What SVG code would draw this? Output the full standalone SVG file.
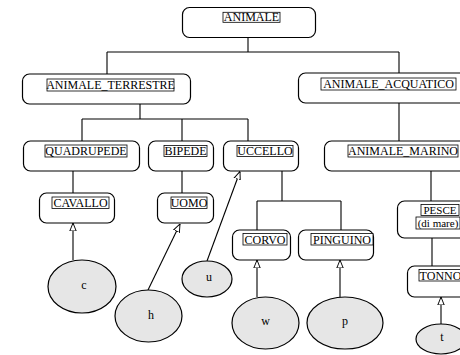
<svg xmlns="http://www.w3.org/2000/svg" width="460" height="355" viewBox="0 0 460 355">
<defs>
<style>
.box{fill:#fff;stroke:#000;stroke-width:1.2}
.lbl{fill:#fff;stroke:#000;stroke-width:0.8}
.t{font-family:"Liberation Serif","Times New Roman",serif;font-size:12px;fill:#000;text-anchor:middle}
.s{font-size:11px}
.ell{fill:#e6e6e6;stroke:#000;stroke-width:1.2}
.ln{fill:none;stroke:#000;stroke-width:1.1}
.ar{fill:none;stroke:#000;stroke-width:1.1;marker-end:url(#tri)}
</style>
<marker id="tri" viewBox="0 0 10 10" refX="10" refY="5" markerWidth="8" markerHeight="8" markerUnits="userSpaceOnUse" orient="auto">
<path d="M0,1 L10,5 L0,9 z" fill="#fff" stroke="#000" stroke-width="1.2"/>
</marker>
</defs>
<rect width="460" height="355" fill="#fff"/>
<g id="connectors">
<path class="ln" d="M248,37 V52 M107,52 H399 M107,52 V74 M399,52 V73"/>
<path class="ln" d="M140,104 V119 M82,119 H248 M82,119 V141 M182,119 V141 M248,119 V141"/>
<path class="ln" d="M399,103 V141"/>
<path class="ln" d="M73,171 V193 M182,171 V193"/>
<path class="ln" d="M282,171 V201 M257,201 H341 M257,201 V230 M341,201 V230"/>
<path class="ln" d="M431,171 V201 M432,238 V266"/>
<path class="ar" d="M73,260 V223"/>
<path class="ar" d="M148,290 L180,224"/>
<path class="ar" d="M207,261 L240,171.5"/>
<path class="ar" d="M257,297 V260"/>
<path class="ar" d="M340,297 V260"/>
<path class="ar" d="M441,324 V297"/>
</g>
<g id="animale">
<rect class="box" x="182.5" y="7.5" width="133" height="30" rx="7"/>
<rect class="lbl" x="223" y="12.3" width="57" height="10"/>
<text class="t" x="251.5" y="21">ANIMALE</text>
</g>
<g id="animale_terrestre">
<rect class="box" x="22.5" y="74" width="168" height="30" rx="7"/>
<rect class="lbl" x="47" y="79" width="127" height="12"/>
<text class="t" x="110.5" y="88.5">ANIMALE_TERRESTRE</text>
</g>
<g id="animale_acquatico">
<rect class="box" x="298.5" y="73" width="190" height="30" rx="7"/>
<rect class="lbl" x="321" y="78" width="135" height="12"/>
<text class="t" x="388.5" y="88">ANIMALE_ACQUATICO</text>
</g>
<g id="quadrupede">
<rect class="box" x="23.5" y="141" width="116" height="30" rx="7"/>
<rect class="lbl" x="45" y="145" width="82" height="12"/>
<text class="t" x="86" y="155">QUADRUPEDE</text>
</g>
<g id="bipede">
<rect class="box" x="148.5" y="141" width="65" height="30" rx="7"/>
<rect class="lbl" x="164" y="145.5" width="43" height="11"/>
<text class="t" x="185.5" y="155">BIPEDE</text>
</g>
<g id="uccello">
<rect class="box" x="223.5" y="141" width="75" height="30" rx="7"/>
<rect class="lbl" x="237" y="145.5" width="56" height="11"/>
<text class="t" x="265" y="155">UCCELLO</text>
</g>
<g id="animale_marino">
<rect class="box" x="324.5" y="141" width="170" height="30" rx="7"/>
<rect class="lbl" x="348" y="145" width="110" height="12"/>
<text class="t" x="403" y="155">ANIMALE_MARINO</text>
</g>
<g id="cavallo">
<rect class="box" x="39.5" y="193" width="75" height="30" rx="7"/>
<rect class="lbl" x="52" y="197" width="57" height="11.5"/>
<text class="t" x="80.5" y="207">CAVALLO</text>
</g>
<g id="uomo">
<rect class="box" x="157.5" y="193" width="56" height="30" rx="7"/>
<rect class="lbl" x="171" y="197" width="36" height="11.5"/>
<text class="t" x="189" y="207">UOMO</text>
</g>
<g id="corvo">
<rect class="box" x="232.5" y="230" width="58" height="30" rx="7"/>
<rect class="lbl" x="243" y="233.5" width="44" height="11.5"/>
<text class="t" x="265" y="243.5">CORVO</text>
</g>
<g id="pinguino">
<rect class="box" x="298.5" y="230" width="75" height="30" rx="7"/>
<rect class="lbl" x="311" y="233.5" width="62" height="11.5"/>
<text class="t" x="342" y="243.5">PINGUINO</text>
</g>
<g id="pesce">
<rect class="box" x="397.5" y="201" width="90" height="37" rx="7"/>
<rect class="lbl" x="421" y="204.5" width="38" height="11"/>
<text class="t s" x="440" y="213.5">PESCE</text>
<rect class="lbl" x="416" y="217" width="44" height="12"/>
<text class="t s" x="438" y="226.5">(di mare)</text>
</g>
<g id="tonno">
<rect class="box" x="407.5" y="266" width="70" height="31" rx="7"/>
<rect class="lbl" x="419" y="269.5" width="43" height="11.5"/>
<text class="t" x="440.5" y="279.5">TONNO</text>
</g>
<g id="c">
<ellipse class="ell" cx="82" cy="286.5" rx="34" ry="26.5"/>
<text class="t" x="84" y="288.5">c</text>
</g>
<g id="h">
<ellipse class="ell" cx="148.5" cy="316" rx="33.5" ry="26"/>
<text class="t" x="151" y="318.5">h</text>
</g>
<g id="u">
<ellipse class="ell" cx="207" cy="279" rx="25" ry="18"/>
<text class="t" x="209" y="280.5">u</text>
</g>
<g id="w">
<ellipse class="ell" cx="265.5" cy="323" rx="33.5" ry="26"/>
<text class="t" x="265.5" y="325">w</text>
</g>
<g id="p">
<ellipse class="ell" cx="345" cy="323" rx="38" ry="26"/>
<text class="t" x="345" y="325">p</text>
</g>
<g id="t">
<ellipse class="ell" cx="441" cy="339" rx="25" ry="15"/>
<text class="t" x="442" y="341">t</text>
</g>
</svg>
